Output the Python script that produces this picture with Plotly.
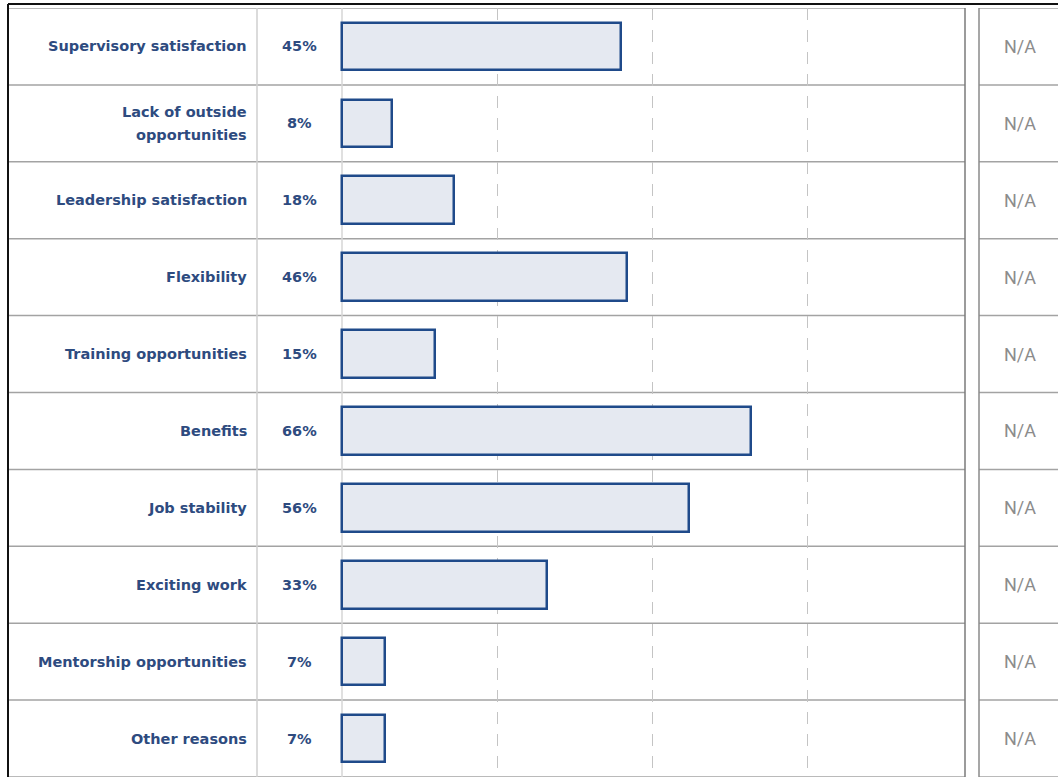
import plotly.graph_objects as go

# Survey data: reasons for staying, share of respondents (%)
reasons = [
    "Supervisory satisfaction",
    "Lack of outside<br>opportunities",
    "Leadership satisfaction",
    "Flexibility",
    "Training opportunities",
    "Benefits",
    "Job stability",
    "Exciting work",
    "Mentorship opportunities",
    "Other reasons",
]
shares = [45, 8, 18, 46, 15, 66, 56, 33, 7, 7]
comparison = ["N/A"] * len(reasons)
grid_ticks = [25, 50, 75]

W, H = 1058, 781
NAVY_TEXT = "#2e4b7f"
BAR_LINE = "#1f4a8a"
BAR_FILL = "#e5e9f1"
ROW_LINE = "#a3a3a3"

def px(x):
    return x / W

def py(y):
    return 1 - y / H

top_y, bottom_y = 8, 777
n = len(reasons)
rows = list(range(n))

# Bar scale: pixels per percentage point, zero at x=342
scale = 6.2
zero_px, left_px, right_px = 342, 336, 965

fig = go.Figure()

fig.add_trace(go.Bar(
    x=shares,
    y=rows,
    orientation="h",
    width=0.62,
    marker=dict(color=BAR_FILL, line=dict(color=BAR_LINE, width=2.5)),
    hoverinfo="skip",
    showlegend=False,
))

shapes = []
# Row separators across the label/percent/bar table and the side column
for i in range(n + 1):
    yv = i - 0.5
    shapes.append(dict(type="line", xref="paper", yref="y",
                       x0=px(8), x1=px(965), y0=yv, y1=yv,
                       line=dict(color=ROW_LINE, width=1.5), layer="below"))
    shapes.append(dict(type="line", xref="paper", yref="y",
                       x0=px(979), x1=1, y0=yv, y1=yv,
                       line=dict(color=ROW_LINE, width=1.5)))

# Column dividers
shapes.append(dict(type="line", xref="paper", yref="paper",
                   x0=px(257), x1=px(257), y0=py(bottom_y), y1=py(top_y),
                   line=dict(color="#cfcfcf", width=1.5)))
shapes.append(dict(type="line", xref="paper", yref="paper",
                   x0=px(zero_px), x1=px(zero_px), y0=py(bottom_y), y1=py(top_y),
                   line=dict(color="#d6d6d6", width=1.5), layer="below"))
shapes.append(dict(type="line", xref="paper", yref="paper",
                   x0=px(965), x1=px(965), y0=py(bottom_y), y1=py(top_y),
                   line=dict(color="#7a7a7a", width=1.5)))
shapes.append(dict(type="line", xref="paper", yref="paper",
                   x0=px(979), x1=px(979), y0=py(bottom_y), y1=py(top_y),
                   line=dict(color="#8a8a8a", width=1.5)))

# Outer frame: black top rule and left edge
shapes.append(dict(type="line", xref="paper", yref="paper",
                   x0=px(8), x1=1, y0=py(4), y1=py(4),
                   line=dict(color="#111111", width=2)))
shapes.append(dict(type="line", xref="paper", yref="paper",
                   x0=px(8), x1=px(8), y0=py(bottom_y), y1=py(4),
                   line=dict(color="#111111", width=2)))

label_font = dict(family="DejaVu Sans", size=14.5, color=NAVY_TEXT)
annotations = []
for i, (name, share, comp) in enumerate(zip(reasons, shares, comparison)):
    lines = name.split("<br>")
    spacing = 23
    offset0 = (len(lines) - 1) * spacing / 2
    for k, line in enumerate(lines):
        annotations.append(dict(
            xref="paper", yref="y", x=px(249), y=i, text=f"<b>{line}</b>",
            yshift=offset0 - k * spacing,
            xanchor="right", yanchor="middle", align="right", showarrow=False,
            font=label_font,
        ))
    annotations.append(dict(
        xref="paper", yref="y", x=px(299), y=i, text=f"<b>{share}%</b>",
        xanchor="center", yanchor="middle", showarrow=False,
        font=dict(family="DejaVu Sans", size=14.5, color=NAVY_TEXT),
    ))
    annotations.append(dict(
        xref="paper", yref="y", x=px(1020), y=i, text=comp,
        xanchor="center", yanchor="middle", showarrow=False,
        font=dict(family="Roboto", size=18, color="#8c8c8c"),
    ))

fig.update_layout(
    width=W, height=H,
    margin=dict(l=0, r=0, t=0, b=0),
    paper_bgcolor="white",
    plot_bgcolor="rgba(0,0,0,0)",
    bargap=0,
    xaxis=dict(
        domain=[px(left_px), px(right_px)],
        range=[(left_px - zero_px) / scale, (right_px - zero_px) / scale],
        tickvals=grid_ticks,
        showticklabels=False,
        showgrid=True,
        gridcolor="#c4c4c4",
        gridwidth=1.2,
        griddash="12px,10px",
        zeroline=False,
        showline=False,
        fixedrange=True,
    ),
    yaxis=dict(
        domain=[py(bottom_y), py(top_y)],
        range=[n - 0.5, -0.5],
        showticklabels=False,
        showgrid=False,
        zeroline=False,
        showline=False,
        fixedrange=True,
    ),
    shapes=shapes,
    annotations=annotations,
)

fig.write_html("out.html")
